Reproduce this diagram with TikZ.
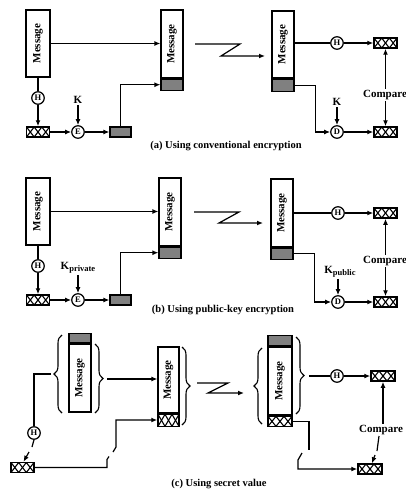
\documentclass[tikz,border=0pt]{standalone}
\usepackage{fontspec}
\setmainfont{Liberation Serif}
\usetikzlibrary{arrows.meta,decorations.pathreplacing,calc}

\tikzset{
  line/.style={line width=1.2pt},
  arr/.style={line width=1.2pt,-{Latex[length=6pt,width=5pt]}},
  msgbox/.style={draw, line width=1.2pt, fill=white, inner sep=0pt,
    font=\bfseries\fontsize{11}{13}\selectfont},
  shadebox/.style={draw, line width=1.2pt, fill=black!50, inner sep=0pt},
  hatchbox/.style={draw, line width=1.5pt, fill=white, inner sep=0pt,
    minimum width=23pt, minimum height=10pt,
    path picture={
      \path (path picture bounding box.south west) coordinate (q1)
            (path picture bounding box.south east) coordinate (q2)
            (path picture bounding box.north west) coordinate (q3)
            (path picture bounding box.north east) coordinate (q4);
      \draw[line width=1.1pt] (q1) -- ($(q3)!1/3!(q4)$) -- ($(q1)!2/3!(q2)$) -- (q4);
      \draw[line width=1.1pt] (q3) -- ($(q1)!1/3!(q2)$) -- ($(q3)!2/3!(q4)$) -- (q2);
    }},
  op/.style={circle, draw, line width=1.2pt, fill=white, inner sep=0pt,
    minimum size=12.5pt, font=\bfseries\fontsize{8.5}{9}\selectfont},
  lbl/.style={font=\bfseries\fontsize{11}{13}\selectfont, inner sep=1pt},
  caption/.style={font=\bfseries\fontsize{10.5}{12}\selectfont, inner sep=0pt},
  cbrace/.style={decorate, decoration={brace, amplitude=8pt}, line width=1.1pt},
}
\newcommand{\msgtext}{\rotatebox{90}{Message}}

\begin{document}
\begin{tikzpicture}[x=1pt,y=-1pt]
\useasboundingbox (0,0) rectangle (406,495);

% ---------- (a) conventional encryption ----------
\node[msgbox, minimum width=24pt, minimum height=67pt] (ma1) at (38,43.5) {\msgtext};
\node[op] (ha1) at (38,98) {H};
\node[hatchbox] (xa1) at (38,132) {};
\node[op] (ea) at (78,132) {E};
\node[lbl] (ka1) at (78,100) {K};
\node[shadebox, minimum width=21pt, minimum height=10pt] (sa1) at (120.5,132) {};
\node[msgbox, minimum width=22pt, minimum height=68pt] (ma2) at (172,44) {\msgtext};
\node[shadebox, minimum width=22pt, minimum height=11pt, anchor=north] (sa2) at (ma2.south) {};
\node[msgbox, minimum width=22pt, minimum height=67pt] (ma3) at (283,44.5) {\msgtext};
\node[shadebox, minimum width=22pt, minimum height=12pt, anchor=north] (sa3) at (ma3.south) {};
\node[op] (ha2) at (337,43) {H};
\node[hatchbox] (xa2) at (385.5,43) {};
\node[op] (da) at (337,132) {D};
\node[lbl] (ka2) at (337,102) {K};
\node[hatchbox] (xa3) at (385.5,132) {};
\node[lbl] (cmpa) at (385,95) {Compare};
\node[caption] (capa) at (226,146) {(a) Using conventional encryption};
\coordinate (za0) at (195,44);
\coordinate (za1) at (240,44);
\coordinate (za2) at (221,56);
\coordinate (za3) at (265,56);

\draw[arr] (ma1.east) -- (ma1.east -| ma2.west);
\draw[line] (ma1.south) -- (ha1.north);
\draw[arr] (ha1.south) -- (xa1.north);
\draw[arr] (xa1.east) -- (ea.west);
\draw[arr] (ka1.south) -- (ea.north);
\draw[arr] (ea.east) -- (sa1.west);
\draw[arr] (sa1.north) |- (sa2.west);
\draw[arr] (za0) -- (za1) -- (za2) -- (za3);
\draw[line] (ha2 -| ma3.east) -- (ha2.west);
\draw[arr] (ha2.east) -- (xa2.west);
\draw[arr] (sa3.east) -- ++(21,0) |- (da.west);
\draw[arr] (ka2.south) -- (da.north);
\draw[arr] (da.east) -- (xa3.west);
\draw[arr] (cmpa.north -| xa2) -- (xa2.south);
\draw[arr] (cmpa.south -| xa3) -- (xa3.north);

% ---------- (b) public-key encryption ----------
\begin{scope}[shift={(0,168)}]
\node[msgbox, minimum width=24pt, minimum height=67pt] (mb1) at (38,43.5) {\msgtext};
\node[op] (hb1) at (38,98) {H};
\node[hatchbox] (xb1) at (38,132) {};
\node[op] (eb) at (78,132) {E};
\node[lbl] (kb1) at (78,100) {K\raisebox{-2.5pt}{\fontsize{8.5}{9}\selectfont private}};
\node[shadebox, minimum width=21pt, minimum height=10pt] (sb1) at (120.5,132) {};
\node[msgbox, minimum width=22pt, minimum height=68pt] (mb2) at (170,44) {\msgtext};
\node[shadebox, minimum width=22pt, minimum height=11pt, anchor=north] (sb2) at (mb2.south) {};
\node[msgbox, minimum width=22pt, minimum height=68pt] (mb3) at (282,45) {\msgtext};
\node[shadebox, minimum width=22pt, minimum height=11pt, anchor=north] (sb3) at (mb3.south) {};
\node[op] (hb2) at (338,45) {H};
\node[hatchbox] (xb2) at (385.5,45) {};
\node[op] (db) at (338,134) {D};
\node[lbl] (kb2) at (340,104) {K\raisebox{-2.5pt}{\fontsize{8.5}{9}\selectfont public}};
\node[hatchbox] (xb3) at (385.5,134) {};
\node[lbl] (cmpb) at (385,93) {Compare};
\node[caption] (capb) at (223,142) {(b) Using public-key encryption};
\coordinate (zb0) at (194,44);
\coordinate (zb1) at (239,44);
\coordinate (zb2) at (219,55);
\coordinate (zb3) at (263,55);

\draw[arr] (mb1.east) -- (mb1.east -| mb2.west);
\draw[line] (mb1.south) -- (hb1.north);
\draw[arr] (hb1.south) -- (xb1.north);
\draw[arr] (xb1.east) -- (eb.west);
\draw[arr] (kb1.south -| eb) -- (eb.north);
\draw[arr] (eb.east) -- (sb1.west);
\draw[arr] (sb1.north) |- (sb2.west);
\draw[arr] (zb0) -- (zb1) -- (zb2) -- (zb3);
\draw[line] (hb2 -| mb3.east) -- (hb2.west);
\draw[arr] (hb2.east) -- (xb2.west);
\draw[arr] (sb3.east) -- ++(21,0) |- (db.west);
\draw[arr] (kb2.south -| db) -- (db.north);
\draw[arr] (db.east) -- (xb3.west);
\draw[arr] (cmpb.north -| xb2) -- (xb2.south);
\draw[arr] (cmpb.south -| xb3) -- (xb3.north);
\end{scope}

% ---------- (c) secret value ----------
\node[msgbox, minimum width=22pt, minimum height=68pt] (mc1) at (80,378) {\msgtext};
\node[shadebox, minimum width=22pt, minimum height=9pt, anchor=south] (sc1) at (mc1.north) {};
\node[msgbox, minimum width=21pt, minimum height=66pt] (mc2) at (168.5,380) {\msgtext};
\node[hatchbox, minimum width=21pt, minimum height=12pt, anchor=north] (xc2) at (mc2.south) {};
\node[msgbox, minimum width=24pt, minimum height=68pt] (mc3) at (280,381) {\msgtext};
\node[shadebox, minimum width=24pt, minimum height=10pt, anchor=south] (sc3) at (mc3.north) {};
\node[hatchbox, minimum width=24pt, minimum height=10pt, anchor=north] (xc3) at (mc3.south) {};
\node[op] (hc1) at (34,433) {H};
\node[hatchbox] (xc1) at (22.5,467.5) {};
\node[op] (hc2) at (337,376) {H};
\node[hatchbox, minimum width=24pt] (xc4) at (383,376) {};
\node[hatchbox, minimum width=24pt] (xc5) at (370,469) {};
\node[lbl] (cmpc) at (381,430) {Compare};
\node[caption] (capc) at (219,484) {(c) Using secret value};

% braces around the message parts
\draw[cbrace] (62,413) -- (62,335);
\draw[cbrace] (95,344) -- (95,413);
\draw[cbrace] (182,347) -- (182,425);
\draw[cbrace] (262,424) -- (262,348);
\draw[cbrace] (296,337) -- (296,414);
\coordinate (tl1) at (51,374);
\coordinate (tr1) at (107,379);
\coordinate (tr2) at (197,383);
\coordinate (tr3) at (309,376);

% sender side
\draw[line] (tl1) -- (tl1 -| hc1) -- (hc1.north);
\coordinate (bh1) at (32,447);
\coordinate (bh2) at (29,452);
\draw[line] (hc1.south) -- (bh1);
\draw[arr] (bh2) -- ([xshift=1]xc1.north);
\draw[arr] (tr1) -- (tr1 -| mc2.west);
\coordinate (bs1) at (107,467.5);
\coordinate (bs2) at (109,456.5);
\coordinate (bs3) at (113,452);
\coordinate (bs4) at (116,420);
\draw[line] (xc1.east) -- (bs1) -- ++(0,-8) -- (bs2);
\draw[arr] (bs3) -- ++(3,-5) -- (bs4) -- (bs4 -| xc2.west);

% transmission
\coordinate (zc1) at (228,383);
\coordinate (zc2) at (208,393);
\coordinate (zc3) at (244,393);
\draw[arr] (tr2) -- (zc1) -- (zc2) -- (zc3);

% receiver side
\draw[line] (tr3) -- (hc2.west);
\draw[arr] (hc2.east) -- (xc4.west);
\coordinate (br1) at (309,450);
\coordinate (br2) at (302,453);
\draw[line] (xc3.east) -- (xc3.east -| br1) -- (br1);
\draw[arr] (br2) -- ++(-4,7) |- (xc5.west);
\draw[arr] (cmpc.north -| xc4) -- (xc4.south);
\coordinate (bm1) at (377,451);
\coordinate (bm2) at (375,455);
\draw[line] (cmpc.south -| 379,0) -- (bm1);
\draw[arr] (bm2) -- ([xshift=2]xc5.north);
\end{tikzpicture}
\end{document}
